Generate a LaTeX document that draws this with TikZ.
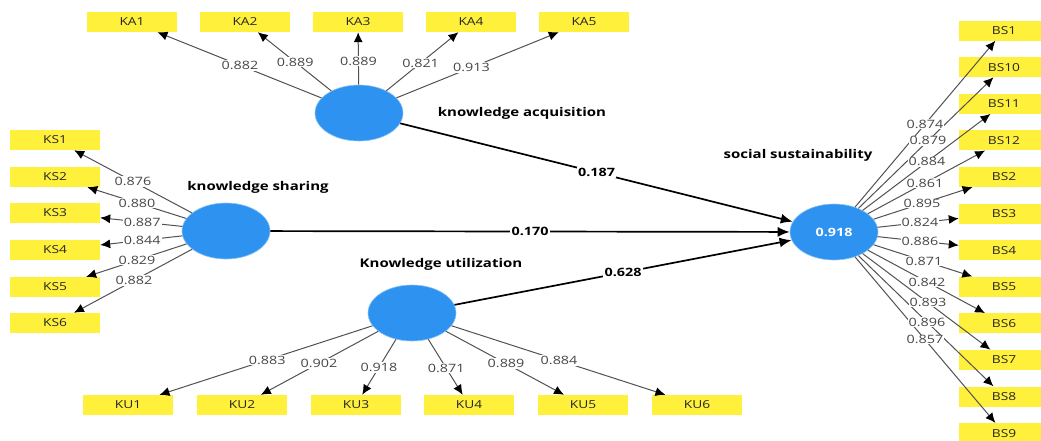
\documentclass[tikz,border=0pt]{standalone}
\usepackage{fontspec}
\setmainfont{Open Sans}[FakeStretch=1.25]
\usetikzlibrary{shapes.geometric,arrows.meta,calc}
\definecolor{lvblue}{RGB}{46,146,240}
\definecolor{ibyellow}{RGB}{255,240,60}
\begin{document}
\begin{tikzpicture}[x=1pt,y=-1pt,
  lv/.style={ellipse, fill=lvblue, draw=lvblue!55!white, line width=0.6pt, minimum width=88pt, minimum height=56pt, inner sep=0pt},
  ind/.style={rectangle, fill=ibyellow, minimum width=90pt, minimum height=20pt, inner sep=0pt, font=\fontsize{11}{12}\selectfont, text=black!85},
  ld/.style={draw=black!68, line width=1pt, -{Latex[length=10pt,width=9pt,color=black]}},
  pth/.style={draw=black, line width=1.7pt, -{Latex[length=12pt,width=10pt]}},
  lbl/.style={fill=white, inner sep=1pt, text=black!72, font=\fontsize{11.5}{12}\selectfont},
  plbl/.style={fill=white, inner sep=1.5pt, text=black, font=\fontsize{11.5}{12}\selectfont\bfseries},
  lvname/.style={text=black, font=\fontsize{12}{13}\selectfont\bfseries}
]
\clip (0,0) rectangle (1041,440);
\fill[white] (0,0) rectangle (1041,440);

% latent variables
\node[lv] (ka) at (359,113) {};
\node[lv] (ks) at (226,231) {};
\node[lv] (ku) at (412,313) {};
\node[lv, text=white, font=\fontsize{11.5}{12}\selectfont\bfseries] (ss) at (834,232) {0.918};

\node[lvname] (kaname) at (522,113) {knowledge acquisition};
\node[lvname] (ksname) at (258,187) {knowledge sharing};
\node[lvname] (kuname) at (441,264) {Knowledge utilization};
\node[lvname] (ssname) at (798,155) {social sustainability};

% indicators KA
\foreach \i/\x in {1/132,2/245,3/358,4/471,5/584}
  \node[ind] (ka\i) at (\x,22) {KA\i};
% indicators KS
\foreach \i/\y in {1/140,2/177,3/213,4/250,5/287,6/323}
  \node[ind] (ks\i) at (55,\y) {KS\i};
% indicators KU
\foreach \i/\x in {1/128,2/242,3/356,4/469,5/583,6/697}
  \node[ind] (ku\i) at (\x,405) {KU\i};
% indicators BS
\foreach \n/\k in {1/0,10/1,11/2,12/3,2/4,3/5,4/6,5/7,6/8,7/9,8/10,9/11}
  \node[ind] (bs\n) at (1004,30.5+36.6*\k) {BS\n};

% KA loadings
\foreach \i/\t/\v in {1/0.524/0.882,2/0.56/0.889,3/0.57/0.889,4/0.55/0.821,5/0.5/0.913}{
  \draw[ld] (ka) -- (ka\i);
  \node[lbl] (kal\i) at ($(ka)!\t!(ka\i)$) {\v};
}
% KS loadings
\foreach \i/\t/\v in {1/0.544/0.876,2/0.52/0.880,3/0.49/0.887,4/0.49/0.844,5/0.52/0.829,6/0.538/0.882}{
  \draw[ld] (ks) -- (ks\i);
  \node[lbl] (ksl\i) at ($(ks)!\t!(ks\i)$) {\v};
}
% KU loadings
\foreach \i/\t/\v in {1/0.51/0.883,2/0.547/0.902,3/0.59/0.918,4/0.6/0.871,5/0.55/0.889,6/0.516/0.884}{
  \draw[ld] (ku) -- (ku\i);
  \node[lbl] (kul\i) at ($(ku)!\t!(ku\i)$) {\v};
}
% BS loadings
\foreach \n in {1,10,11,12,2,3,4,5,6,7,8,9}{
  \draw[ld] (ss) -- (bs\n);
}
\foreach \n/\t/\v in {1/0.535/0.874,10/0.553/0.879,11/0.547/0.884,12/0.535/0.861,2/0.518/0.895,3/0.506/0.824,4/0.506/0.886,5/0.529/0.871,6/0.547/0.842,7/0.553/0.893,8/0.547/0.896,9/0.535/0.857}{
  \node[lbl, inner sep=0.5pt] (bsl\n) at ($(ss)!\t!(bs\n)$) {\v};
}

% structural paths
\draw[pth] (ka) -- (ss);
\draw[pth] (ks) -- (ss);
\draw[pth] (ku) -- (ss);
\node[plbl] (p1) at ($(ka)!0.5!(ss)$) {0.187};
\node[plbl] (p2) at ($(ks)!0.5!(ss)$) {0.170};
\node[plbl] (p3) at ($(ku)!0.5!(ss)$) {0.628};
\end{tikzpicture}
\end{document}
